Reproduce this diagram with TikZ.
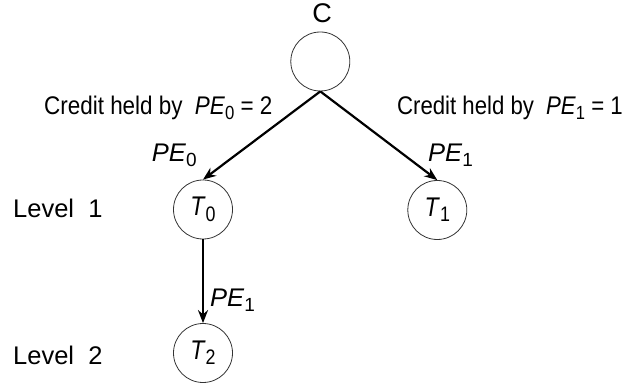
\documentclass[tikz,border=0pt]{standalone}
\usepackage{fontspec}
\setmainfont{Liberation Sans}
\usetikzlibrary{arrows.meta}
\newcommand\mysub[1]{\raisebox{-0.18em}{\fontsize{19}{19}\selectfont #1}}
\newcommand\tsub[1]{\raisebox{-0.2em}{\fontsize{21}{21}\selectfont #1}}
\tikzset{
  txt/.style={font=\fontsize{25.5}{30}\selectfont, inner sep=0pt},
  circ/.style={circle, draw=black!80, line width=0.8pt, minimum size=59pt, inner sep=0pt, font=\fontsize{27}{30}\selectfont},
  arr/.style={line width=2.2pt, -{Stealth[length=13pt,width=10pt]}}
}
\begin{document}
\begin{tikzpicture}[x=1pt,y=-1pt]
\useasboundingbox (0,0) rectangle (624,387);
\node[circ] (root) at (320.3,61.5) {};
\node[circ] (t0) at (203,209.5) {\scalebox{0.85}[1]{\textit{T}\tsub{0}}};
\node[circ] (t1) at (437.3,210) {\scalebox{0.85}[1]{\textit{T}\tsub{1}}};
\node[circ] (t2) at (203,353) {\scalebox{0.85}[1]{\textit{T}\tsub{2}}};
\node[txt, font=\fontsize{27}{30}\selectfont, anchor=base] (c) at (322,23) {C};
\node[txt, anchor=base west] (l1) at (13,218) {Level\ \ 1};
\node[txt, anchor=base west] (l2) at (13,365) {Level\ \ 2};
\node[txt, anchor=base west] (cl) at (44,115) {\scalebox{0.88}[1]{Credit held by\hspace{0.55em}\textit{PE}\mysub{0} = 2}};
\node[txt, anchor=base east] (cr) at (623,115) {\scalebox{0.87}[1]{Credit held by\hspace{0.55em}\textit{PE}\mysub{1} = 1}};
\node[txt, anchor=base east] (pe0) at (197,162) {\textit{PE}\mysub{0}};
\node[txt, anchor=base west] (pe1) at (428,162) {\textit{PE}\mysub{1}};
\node[txt, anchor=base west] (pe1b) at (210,307) {\textit{PE}\mysub{1}};
\draw[arr] (root.south) -- (t0.north);
\draw[arr] (root.south) -- (t1.north);
\draw[arr] (t0.south) -- (t2.north);
\end{tikzpicture}
\end{document}
